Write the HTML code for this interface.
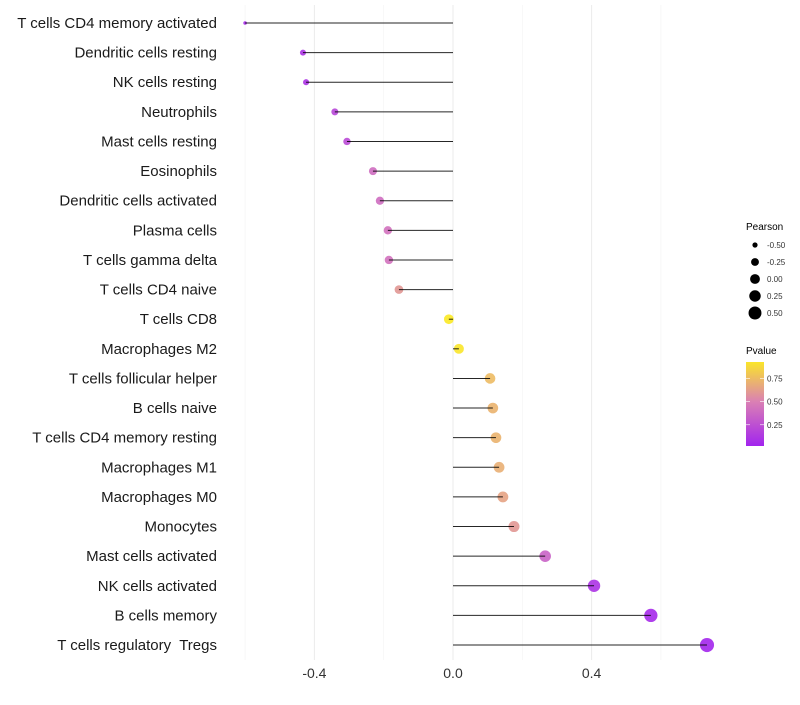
<!DOCTYPE html>
<html><head><meta charset="utf-8"><style>
body{margin:0;background:#fff;font-family:"Liberation Sans",sans-serif}
</style></head><body>
<svg id="c" width="800" height="700" xmlns="http://www.w3.org/2000/svg" font-family="Liberation Sans, sans-serif"></svg>
<script>
const categories=["T cells CD4 memory activated","Dendritic cells resting","NK cells resting","Neutrophils","Mast cells resting","Eosinophils","Dendritic cells activated","Plasma cells","T cells gamma delta","T cells CD4 naive","T cells CD8","Macrophages M2","T cells follicular helper","B cells naive","T cells CD4 memory resting","Macrophages M1","Macrophages M0","Monocytes","Mast cells activated","NK cells activated","B cells memory","T cells regulatory  Tregs"];
const pearson=[-0.600,-0.433,-0.424,-0.341,-0.306,-0.231,-0.211,-0.188,-0.185,-0.156,-0.012,0.017,0.107,0.115,0.124,0.133,0.144,0.176,0.266,0.407,0.571,0.733];
const pvalue=[0.05,0.1,0.1,0.2,0.22,0.4,0.4,0.42,0.42,0.6,0.95,0.93,0.75,0.72,0.72,0.7,0.65,0.6,0.35,0.1,0.05,0.03];
const xTicks=[-0.4,0.0,0.4];
const xMinor=[-0.6,-0.2,0.2,0.6];
const sizeLegend=[-0.5,-0.25,0,0.25,0.5];
const colorLegend=[0.25,0.5,0.75];
const svg=document.getElementById('c');const NS='http://www.w3.org/2000/svg';
function X(v){return 453+v*346.5}
function Y(i){return 23+i*29.62}
function R(v){return Math.sqrt(3.24+(v+0.6)*35)}
function lerp(a,b,t){return a.map((x,k)=>Math.round(x+(b[k]-x)*t))}
function col(p){const c0=[160,32,240],c1=[218,128,180],c2=[255,245,20];
 const c=p<0.5?lerp(c0,c1,p/0.5):lerp(c1,c2,(p-0.5)/0.5);return 'rgb('+c.join(',')+')'}
function mk(t,a,txt){const e=document.createElementNS(NS,t);for(const k in a)e.setAttribute(k,a[k]);if(txt!==undefined)e.textContent=txt;svg.appendChild(e);return e}
xMinor.forEach(v=>{const e=mk('line',{x1:X(v),x2:X(v),y1:5,y2:660,stroke:'#f2f2f2','stroke-width':0.6});

});
xTicks.forEach(v=>{const e=mk('line',{x1:X(v),x2:X(v),y1:5,y2:660,stroke:'#ebebeb','stroke-width':1});


const t=mk('text',{x:X(v),y:678,'text-anchor':'middle','font-size':14,fill:'#333'},v.toFixed(1));

});
categories.forEach((c,i)=>{
 const t=mk('text',{x:217,y:Y(i)+5,'text-anchor':'end','font-size':15,fill:'#1a1a1a',style:'white-space:pre'},c);
 
 
 const d=mk('circle',{cx:X(pearson[i]),cy:Y(i),r:R(pearson[i]),fill:col(pvalue[i]),'fill-opacity':0.9});
 
 
 const l=mk('line',{x1:X(0),x2:X(pearson[i]),y1:Y(i),y2:Y(i),stroke:'#000','stroke-width':1,'stroke-opacity':0.85});
 
 
});
let e=mk('text',{x:746,y:230,'font-size':10,fill:'#000'},'Pearson');


sizeLegend.forEach((v,k)=>{const y=245+k*17;
 const d=mk('circle',{cx:755,cy:y,r:R(v),fill:'#000'});
 
 
 const t=mk('text',{x:767,y:y+3,'font-size':8,fill:'#333'},v.toFixed(2));
 
 });
e=mk('text',{x:746,y:354,'font-size':10,fill:'#000'},'Pvalue');


const defs=mk('defs',{});const g=document.createElementNS(NS,'linearGradient');
g.setAttribute('id','pg');g.setAttribute('x1',0);g.setAttribute('x2',0);g.setAttribute('y1',1);g.setAttribute('y2',0);
[0.02,0.25,0.5,0.75,0.93].forEach(p=>{const s=document.createElementNS(NS,'stop');s.setAttribute('offset',(p-0.02)/0.91);s.setAttribute('stop-color',col(p));g.appendChild(s)});
defs.appendChild(g);
e=mk('rect',{x:746,y:362,width:18,height:84,fill:'url(#pg)'});


colorLegend.forEach(p=>{const y=446-(p-0.02)/0.91*84;
 mk('line',{x1:746,x2:750,y1:y,y2:y,stroke:'#fff','stroke-width':0.6});mk('line',{x1:760,x2:764,y1:y,y2:y,stroke:'#fff','stroke-width':0.6});
 const t=mk('text',{x:767,y:y+3,'font-size':8,fill:'#333'},p.toFixed(2));
 
 });
</script>
</body></html>
